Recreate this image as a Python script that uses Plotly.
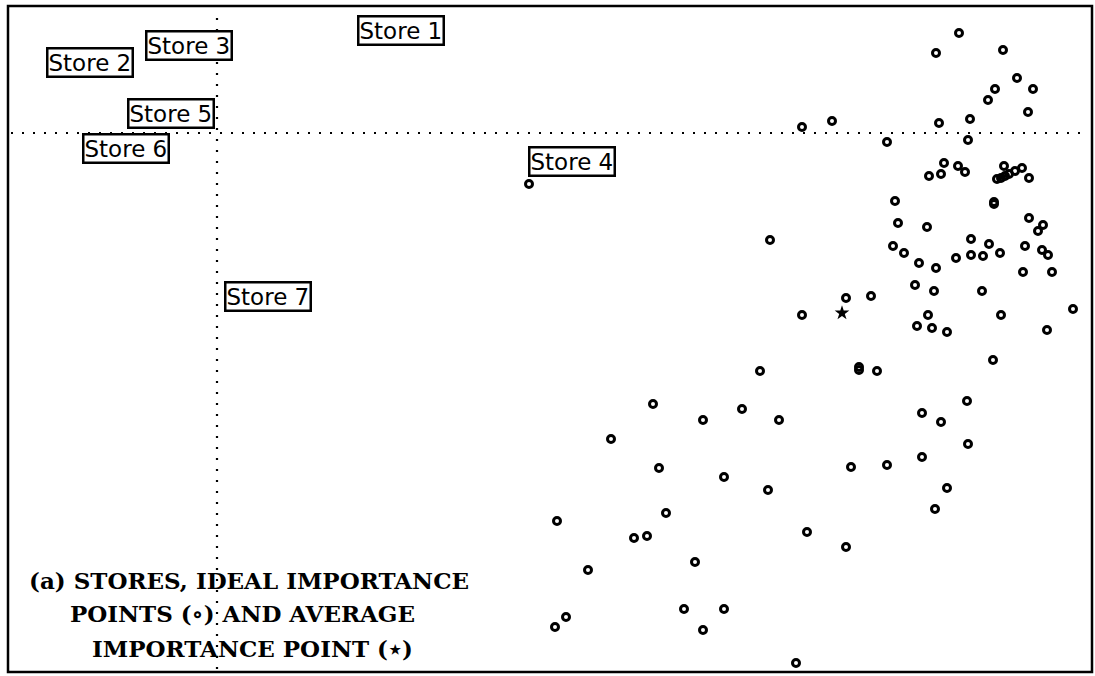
import plotly.graph_objects as go

# Ideal importance points (one per respondent)
ideal_x = [
    5.85, 6.15, 6.70, 7.19, 7.42, 7.86, 7.22, 7.53, 7.51, 7.71, 7.78, 8.00, 8.16, 8.11, 3.12,
    7.27, 7.41, 7.48, 7.12, 7.24, 7.87, 7.80, 7.84, 7.88, 7.92, 7.98, 8.05, 8.12, 7.77, 7.77,
    6.78, 6.81, 7.10, 8.12, 8.26, 8.21, 7.54, 7.72, 6.76, 6.87, 8.08, 8.25, 8.31, 7.54, 7.66,
    7.83, 7.39, 7.02, 7.19, 8.06, 8.35, 6.98, 7.17, 7.65, 8.56, 7.11, 7.84, 7.00, 7.15, 7.30,
    8.30, 7.76, 5.53, 5.85, 6.29, 6.54, 5.43, 6.42, 6.42, 6.60, 4.86, 5.25, 5.62, 7.50, 7.05,
    7.24, 7.51, 7.05, 6.70, 6.34, 5.07, 5.51, 7.30, 7.18, 5.90, 6.29, 4.36, 3.94, 4.42, 4.49,
    3.40, 4.17, 4.30, 4.78, 3.71, 4.67, 5.07, 3.49, 3.38, 4.86, 5.79,
]
ideal_y = [
    0.06, 0.12, -0.09, 0.80, 1.00, 0.83, 0.10, 0.14, -0.07, 0.33, 0.44, 0.55, 0.44, 0.21, -0.51,
    -0.30, -0.33, -0.39, -0.43, -0.41, -0.33, -0.46, -0.45, -0.43, -0.41, -0.38, -0.35, -0.45, -0.69, -0.71,
    -0.68, -0.90, -0.94, -0.85, -0.92, -0.98, -1.06, -1.11, -1.13, -1.20, -1.13, -1.17, -1.22, -1.22, -1.23,
    -1.20, -1.25, -1.30, -1.35, -1.39, -1.39, -1.52, -1.58, -1.58, -1.76, -1.82, -1.82, -1.93, -1.95, -1.99,
    -1.97, -2.27, -1.07, -1.82, -1.65, -1.63, -2.38, -2.34, -2.37, -2.38, -2.87, -2.76, -2.87, -2.68, -2.80,
    -2.89, -3.11, -3.24, -3.32, -3.34, -3.44, -3.57, -3.55, -3.76, -3.99, -4.14, -2.71, -3.06, -3.35, -3.80,
    -3.88, -4.05, -4.03, -4.29, -4.37, -4.76, -4.76, -4.84, -4.94, -4.97, -5.30,
]

# Average importance point
avg_x = [6.25]
avg_y = [-1.80]

# Store positions
store_names = ["Store 1", "Store 2", "Store 3", "Store 4", "Store 5", "Store 6", "Store 7"]
store_x = [1.84, -1.27, -0.28, 3.55, -0.46, -0.91, 0.51]
store_y = [1.03, 0.71, 0.88, -0.28, 0.20, -0.15, -1.63]

caption_lines = [
    "(a) STORES, IDEAL IMPORTANCE",
    "POINTS (\u2218) AND AVERAGE",
    "IMPORTANCE POINT (\u22c6)",
]

X_RANGE = [-2.09, 8.75]
Y_RANGE = [-5.39, 1.27]

fig = go.Figure()

fig.add_trace(go.Scatter(
    x=ideal_x, y=ideal_y, mode="markers",
    marker=dict(symbol="circle-open", size=7, color="black", line=dict(width=3)),
    hoverinfo="skip", showlegend=False,
))
fig.add_trace(go.Scatter(
    x=avg_x, y=avg_y, mode="markers",
    marker=dict(symbol="star", size=11, color="black", line=dict(width=0)),
    hoverinfo="skip", showlegend=False,
))

# Dotted reference axes through the origin
dots = dict(color="black", width=2.2, dash="2px,9px")
fig.add_shape(type="line", xref="x", yref="y", x0=X_RANGE[0] + 0.03, x1=X_RANGE[1] - 0.03,
              y0=0, y1=0, line=dots)
fig.add_shape(type="line", xref="x", yref="y", x0=0, x1=0,
              y0=Y_RANGE[0] + 0.03, y1=Y_RANGE[1] - 0.03, line=dots)

# Frame
fig.add_shape(type="rect", xref="paper", yref="paper", x0=0, x1=1, y0=0, y1=1,
              line=dict(color="black", width=2.5))

for name, sx, sy in zip(store_names, store_x, store_y):
    fig.add_annotation(
        x=sx, y=sy, xref="x", yref="y", text=name, showarrow=False,
        font=dict(family="DejaVu Sans", size=23, color="black"),
        bordercolor="black", borderwidth=2.5, borderpad=0, bgcolor="white",
        xanchor="center", yanchor="middle",
    )

caption_pos = [(0.315, -4.47), (0.25, -4.80), (0.35, -5.15)]
for line, (cx, cy) in zip(caption_lines, caption_pos):
    fig.add_annotation(
        x=cx, y=cy, xref="x", yref="y", text="<b>" + line + "</b>", showarrow=False,
        font=dict(family="DejaVu Serif", size=23, color="black"),
        xanchor="center", yanchor="middle",
    )

fig.update_xaxes(range=X_RANGE, visible=False, showgrid=False, zeroline=False)
fig.update_yaxes(range=Y_RANGE, visible=False, showgrid=False, zeroline=False)
fig.update_layout(
    width=1095, height=676,
    margin=dict(l=8, r=3, t=6, b=4),
    paper_bgcolor="white", plot_bgcolor="white",
    showlegend=False,
)

fig.write_html("out.html")
